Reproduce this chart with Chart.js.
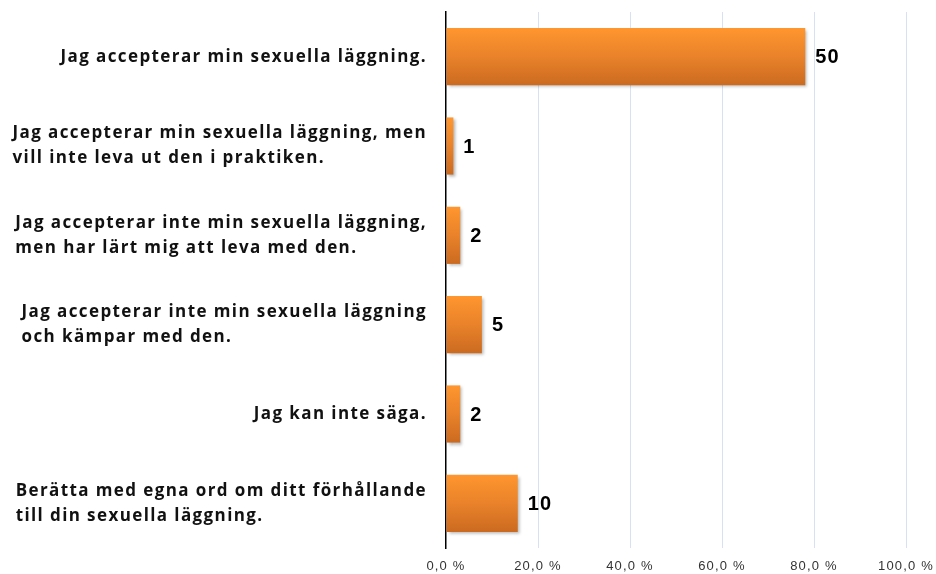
<!DOCTYPE html>
<html>
<head>
<meta charset="utf-8">
<script src="https://cdn.jsdelivr.net/npm/chart.js@4/dist/chart.umd.min.js"></script>
<style>
  html, body { margin: 0; padding: 0; background: #fff; }
  #wrap { width: 936px; height: 574px; }
</style>
</head>
<body>
<div id="wrap"><canvas id="myChart"></canvas></div>
<script>
const categories = [
  ['Jag accepterar min sexuella läggning.'],
  ['Jag accepterar min sexuella läggning, men', 'vill inte leva ut den i praktiken.'],
  ['Jag accepterar inte min sexuella läggning,', 'men har lärt mig att leva med den.'],
  ['Jag accepterar inte min sexuella läggning', 'och kämpar med den.'],
  ['Jag kan inte säga.'],
  ['Berätta med egna ord om ditt förhållande', 'till din sexuella läggning.']
];
const counts = [50, 1, 2, 5, 2, 10];
const percents = [78.1, 1.6, 3.1, 7.8, 3.1, 15.6];
const xTicks = [0, 20, 40, 60, 80, 100];

// bar fill: orange gradient from top to bottom of each bar
function barFill(c) {
  const chart = c.chart;
  const ys = chart.scales && chart.scales.y;
  if (!ys || !chart.chartArea || !ys.height) return '#ee8a2c';
  const band = ys.height / categories.length;
  const cy = ys.getPixelForValue(c.dataIndex);
  const half = band * 0.64 / 2;
  const g = chart.ctx.createLinearGradient(0, cy - half, 0, cy + half);
  g.addColorStop(0, '#ff962f');
  g.addColorStop(0.5, '#e9822a');
  g.addColorStop(1, '#cb6a20');
  return g;
}

// spaced-out tick text, like the original
const spacing = {
  id: 'spacing',
  beforeUpdate(chart) { chart.ctx.letterSpacing = '1.2px'; },
  beforeDraw(chart) { chart.ctx.letterSpacing = '1.2px'; }
};

const barShadow = {
  id: 'barShadow',
  beforeDatasetsDraw(chart) {
    const ctx = chart.ctx;
    ctx.save();
    ctx.shadowColor = 'rgba(0,0,0,0.28)';
    ctx.shadowBlur = 3;
    ctx.shadowOffsetX = 2;
    ctx.shadowOffsetY = 2;
  },
  afterDatasetsDraw(chart) {
    chart.ctx.restore();
  }
};

// count labels right of each bar
const countLabels = {
  id: 'countLabels',
  afterDatasetsDraw(chart) {
    const ctx = chart.ctx;
    const meta = chart.getDatasetMeta(0);
    ctx.save();
    ctx.letterSpacing = '1.2px';
    ctx.font = 'bold 20px "Liberation Sans", Arial';
    ctx.fillStyle = '#000';
    ctx.textAlign = 'left';
    ctx.textBaseline = 'middle';
    meta.data.forEach((bar, i) => {
      ctx.fillText(String(counts[i]), bar.x + 10, bar.y + 1);
    });
    ctx.restore();
  }
};

// category labels: block right aligned to axis, lines left aligned
const categoryLabels = {
  id: 'categoryLabels',
  afterDraw(chart) {
    const ctx = chart.ctx;
    const ys = chart.scales.y;
    ctx.save();
    ctx.letterSpacing = '1.4px';
    ctx.font = 'bold 17px "Open Sans"';
    ctx.fillStyle = '#111';
    ctx.textAlign = 'left';
    ctx.textBaseline = 'middle';
    categories.forEach((lines, i) => {
      const cy = ys.getPixelForValue(i);
      const w = Math.max(...lines.map(l => ctx.measureText(l).width));
      const x0 = chart.chartArea.left - 19 - w;
      lines.forEach((l, j) => {
        ctx.fillText(l, x0, cy + (j - (lines.length - 1) / 2) * 25);
      });
    });
    ctx.restore();
  }
};

new Chart(document.getElementById('myChart'), {
  type: 'bar',
  data: {
    labels: categories,
    datasets: [{
      data: percents,
      backgroundColor: barFill,
      borderWidth: 0,
      barPercentage: 0.8,
      categoryPercentage: 0.8
    }]
  },
  options: {
    indexAxis: 'y',
    responsive: true,
    maintainAspectRatio: false,
    animation: false,
    layout: { padding: { left: 446, right: 30, top: 12, bottom: 0 } },
    plugins: { legend: { display: false }, tooltip: { enabled: false } },
    scales: {
      x: {
        min: 0,
        max: 100,
        afterBuildTicks(scale) {
          scale.ticks = xTicks.map(v => ({ value: v }));
        },
        afterFit(scale) {
          scale.height = 26;
          scale.paddingLeft = 0;
          scale.paddingRight = 0;
        },
        grid: {
          color: c => c.tick && c.tick.value === 0 ? 'rgba(0,0,0,0)' : '#d6e2f0',
          lineWidth: 1,
          drawTicks: false
        },
        border: { display: false },
        ticks: {
          padding: 11,
          color: '#333',
          font: { family: '"Liberation Sans", Arial', size: 13 },
          callback: v => v.toFixed(1).replace('.', ',') + ' %'
        }
      },
      y: {
        grid: { display: false, drawTicks: false },
        border: { display: true, color: '#000', width: 1.5 },
        ticks: { display: false }
      }
    }
  },
  plugins: [spacing, barShadow, countLabels, categoryLabels]
});
</script>
</body>
</html>
